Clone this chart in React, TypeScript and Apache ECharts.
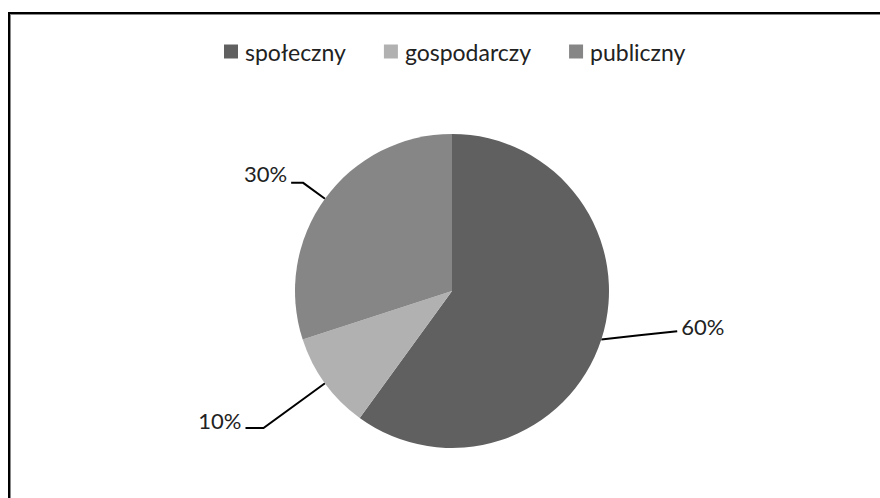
import React, { useEffect, useRef } from "react";
import * as echarts from "echarts";

const categories = ["społeczny", "gospodarczy", "publiczny"];
const values = [60, 10, 30];
const colors = ["#606060", "#b1b1b1", "#868686"];
const lineLengths = [
  [2, 74],
  [76, 18],
  [27, 12],
];
const labelShift = [-14, -7, -9];

export default function App() {
  const ref = useRef<HTMLDivElement>(null);
  useEffect(() => {
    const chart = echarts.init(ref.current!, null, { renderer: "svg" });
    chart.setOption({
      animation: false,
      backgroundColor: "#ffffff",
      legend: {
        top: 35,
        left: 219,
        itemWidth: 14,
        itemHeight: 14,
        itemGap: 38,
        icon: "rect",
        textStyle: { fontFamily: "Lato", fontSize: 23, color: "#222", padding: [0, 0, 0, 2] },
        data: categories,
      },
      graphic: [
        { type: "rect", shape: { x: 8, y: 12, width: 2, height: 486 }, style: { fill: "#000" } },
        { type: "rect", shape: { x: 8, y: 12, width: 872, height: 2 }, style: { fill: "#000" } },
        { type: "rect", shape: { x: 10, y: 14, width: 1, height: 484 }, style: { fill: "#888" } },
        { type: "rect", shape: { x: 10, y: 14, width: 870, height: 1 }, style: { fill: "#888" } },
      ],
      series: [
        {
          type: "pie",
          center: [452, 291],
          radius: 157,
          startAngle: 90,
          clockwise: true,
          avoidLabelOverlap: false,
          label: {
            show: true,
            position: "outside",
            formatter: "{d}%",
            fontFamily: "Lato",
            fontSize: 22,
            color: "#222",
            distanceToLabelLine: 4,
          },
          labelLayout: (params: any) => {
            const pts = params.labelLinePoints;
            const dy = labelShift[params.dataIndex];
            if (!pts) return { dy };
            const p = pts.map((q: number[]) => [q[0], q[1]]);
            if (params.dataIndex === 0) {
              p[2][1] += dy + 5;
              p[1][0] = (p[0][0] + p[2][0]) / 2;
              p[1][1] = (p[0][1] + p[2][1]) / 2;
            }
            return { dy, labelLinePoints: p };
          },
          labelLine: { show: true, lineStyle: { color: "#000", width: 2 } },
          data: categories.map((name, i) => ({
            name,
            value: values[i],
            itemStyle: { color: colors[i] },
            labelLine: { length: lineLengths[i][0], length2: lineLengths[i][1] },
          })),
        },
      ],
    });
    return () => chart.dispose();
  }, []);
  return (
    <div
      ref={ref}
      style={{ position: "fixed", left: 0, top: 0, width: 880, height: 498 }}
    />
  );
}
